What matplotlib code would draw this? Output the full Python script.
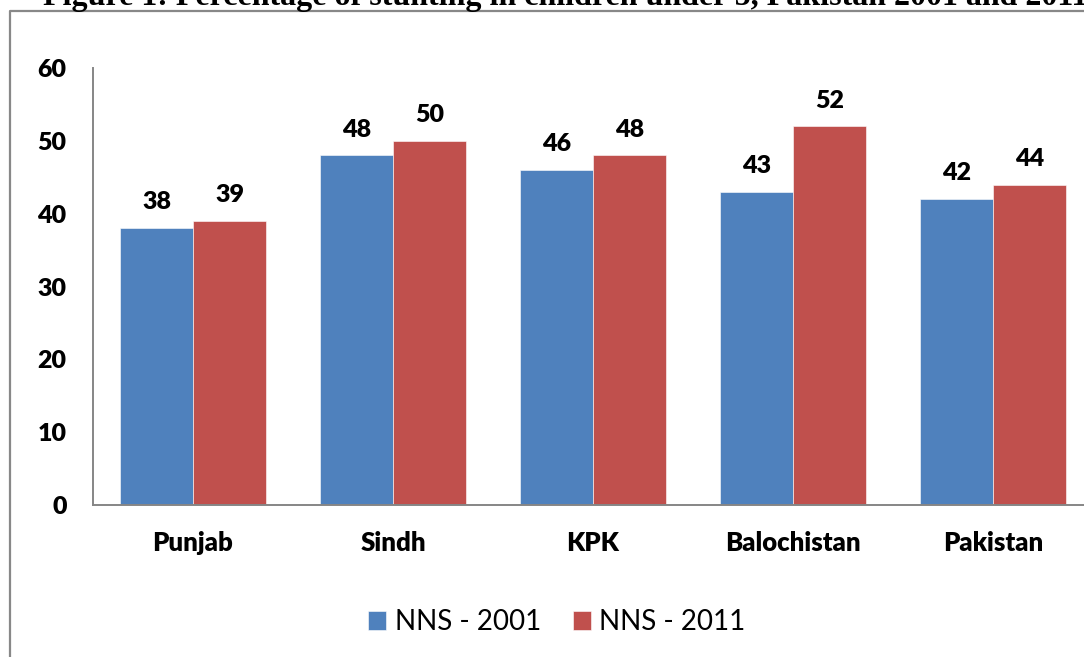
import matplotlib
matplotlib.use("Agg")
import matplotlib.pyplot as plt
from matplotlib.lines import Line2D
import numpy as np

categories = ["Punjab", "Sindh", "KPK", "Balochistan", "Pakistan"]
nns_2001 = [38, 48, 46, 43, 42]
nns_2011 = [39, 50, 48, 52, 44]
series_names = ["NNS - 2001", "NNS - 2011"]
yticks = [0, 10, 20, 30, 40, 50, 60]
title = "Figure 1: Percentage of stunting in children under 5, Pakistan 2001 and 2011"

BLUE = "#4F81BD"
RED = "#C0504D"
GRAY = "#868686"
FONT = "Lato"

W, H = 1084, 657
fig = plt.figure(figsize=(W / 100, H / 100), dpi=100)

def fx(px):
    return px / W

def fy(py):
    return 1 - py / H

ax = fig.add_axes([fx(93), fy(505), fx(1000), fy(68) - fy(505)])

x = np.arange(len(categories))
bw = 0.365
b1 = ax.bar(x - bw / 2, nns_2001, bw, color=BLUE, edgecolor="white", linewidth=0.4, label=series_names[0])
b2 = ax.bar(x + bw / 2, nns_2011, bw, color=RED, edgecolor="white", linewidth=0.4, label=series_names[1])

for bars, vals in ((b1, nns_2001), (b2, nns_2011)):
    for rect, v in zip(bars, vals):
        ax.annotate(str(v), (rect.get_x() + rect.get_width() / 2, v),
                    xytext=(0, 13.5), textcoords="offset points",
                    ha="center", va="baseline", fontsize=18,
                    fontweight="heavy", family=FONT, color="black")

ax.set_xlim(-0.5, len(categories) - 0.5)
ax.set_ylim(0, 60)
ax.set_yticks(yticks)
ax.set_yticklabels([str(t) for t in yticks])
ax.set_xticks(x)
ax.set_xticklabels(categories)
ax.tick_params(axis="y", length=0, pad=19)
ax.tick_params(axis="x", length=0, pad=19)
for lab in ax.get_yticklabels():
    lab.set_fontfamily(FONT)
    lab.set_fontweight("heavy")
    lab.set_fontsize(18)
for lab in ax.get_xticklabels():
    lab.set_fontfamily(FONT)
    lab.set_fontweight("heavy")
    lab.set_fontsize(18.5)
for s in ("top", "right"):
    ax.spines[s].set_visible(False)
for s in ("left", "bottom"):
    ax.spines[s].set_color(GRAY)
    ax.spines[s].set_linewidth(1.4)

leg = fig.legend(handles=[b1, b2], labels=series_names, loc="center",
                 bbox_to_anchor=(fx(557), fy(622)), ncol=2, frameon=False,
                 prop={"family": FONT, "size": 20},
                 handlelength=0.65, handleheight=0.65,
                 handletextpad=0.3, columnspacing=1.15)

# outer border (left and top edges visible)
fig.add_artist(Line2D([fx(10), fx(10), fx(1084)], [0, fy(11), fy(11)],
                      transform=fig.transFigure, color="#888888", linewidth=1.6))

fig.text(fx(43), fy(5), title, ha="left", va="baseline",
         family="Liberation Serif", fontweight="bold", fontsize=23)

fig.savefig("out.png", dpi=100)
